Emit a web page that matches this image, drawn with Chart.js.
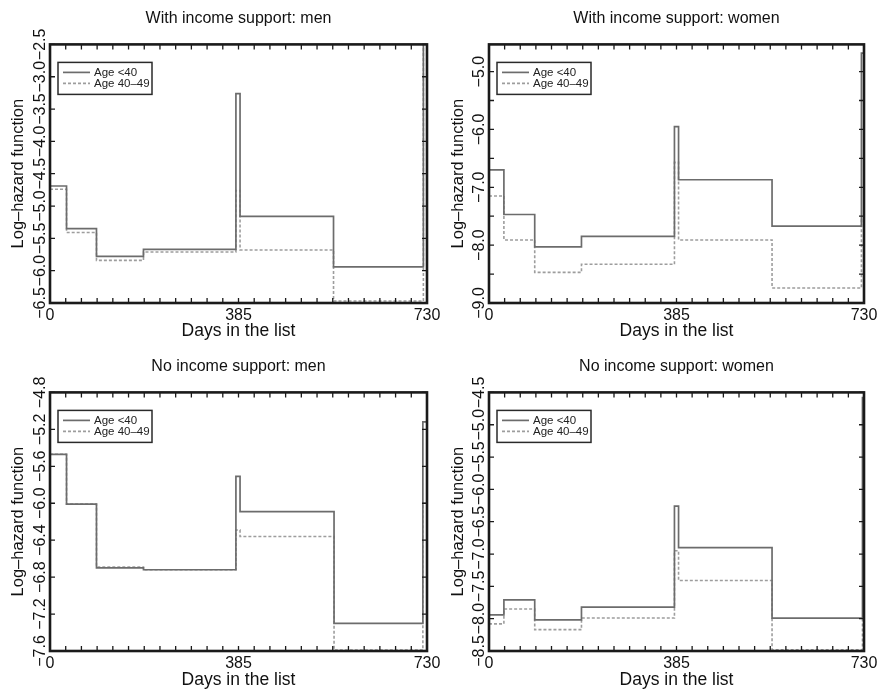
<!DOCTYPE html>
<html><head><meta charset="utf-8">
<script src="https://cdn.jsdelivr.net/npm/chart.js@4/dist/chart.umd.min.js"></script>
<style>
html,body{margin:0;padding:0;background:#fff;}
body{width:880px;height:689px;position:relative;overflow:hidden;}
.p{position:absolute;}
</style></head>
<body>
<div class="p" style="left:0;top:0"><canvas id="c1" width="440" height="340"></canvas></div>
<div class="p" style="left:440px;top:0"><canvas id="c2" width="440" height="340"></canvas></div>
<div class="p" style="left:0;top:340px"><canvas id="c3" width="440" height="349"></canvas></div>
<div class="p" style="left:440px;top:340px"><canvas id="c4" width="440" height="349"></canvas></div>
<script>
// ---------- data ----------
const seriesLabels = ['Age <40', 'Age 40\u201349'];
const panelTitles = ['With income support: men', 'With income support: women', 'No income support: men', 'No income support: women'];
const xAxisTitle = 'Days in the list';
const yAxisTitle = 'Log\u2013hazard function';
const xTickValues = [0, 365, 730];
const xTickLabels = ['0', '385', '730'];
const xMax = 730;
const xMinorCount = 24;

// With income support: men
const daysISMen  = [0, 32, 90, 181, 360, 368, 549, 723, 730];
const youngISMen = [-4.69, -5.35, -5.78, -5.67, -3.26, -5.16, -5.94, -2.40, -2.40];
const oldISMen   = [-4.74, -5.41, -5.84, -5.71, -4.76, -5.68, -6.47, -2.40, -2.40];
const yTicksISMen  = [-6.5, -6.0, -5.5, -5.0, -4.5, -4.0, -3.5, -3.0, -2.5];
const yLabelsISMen = ['\u22126.5', '\u22126.0', '\u22125.5', '\u22125.0', '\u22124.5', '\u22124.0', '\u22123.5', '\u22123.0', '\u22122.5'];
const yMarksISMen  = [-6.5, -6.0, -5.5, -5.0, -4.5, -4.0, -3.5, -3.0, -2.5];

// With income support: women
const daysISWomen  = [0, 29, 89, 180, 361, 369, 551, 725, 730];
const youngISWomen = [-6.70, -7.47, -8.03, -7.85, -5.95, -6.87, -7.67, -4.68, -4.68];
const oldISWomen   = [-7.15, -7.91, -8.47, -8.33, -6.57, -7.91, -8.74, -7.55, -7.55];
const yTicksISWomen  = [-9.0, -8.0, -7.0, -6.0, -5.0];
const yLabelsISWomen = ['\u22129.0', '\u22128.0', '\u22127.0', '\u22126.0', '\u22125.0'];
const yMarksISWomen  = [-9.0, -8.5, -8.0, -7.5, -7.0, -6.5, -6.0, -5.5, -5.0];

// No income support: men
const daysNISMen  = [0, 32, 90, 181, 360, 368, 550, 722, 730];
const youngNISMen = [-5.47, -6.01, -6.70, -6.72, -5.71, -6.09, -7.30, -5.12, -5.12];
const oldNISMen   = [-5.47, -6.01, -6.69, -6.72, -6.29, -6.36, -7.59, -6.00, -6.00];
const yTicksNISMen  = [-7.6, -7.2, -6.8, -6.4, -6.0, -5.6, -5.2, -4.8];
const yLabelsNISMen = ['\u22127.6', '\u22127.2', '\u22126.8', '\u22126.4', '\u22126.0', '\u22125.6', '\u22125.2', '\u22124.8'];
const yMarksNISMen  = [-7.6, -7.2, -6.8, -6.4, -6.0, -5.6, -5.2, -4.8];

// No income support: women
const daysNISWomen  = [0, 29, 89, 180, 361, 369, 551, 727, 730];
const youngNISWomen = [-7.94, -7.71, -8.02, -7.82, -6.26, -6.90, -7.99, -4.58, -4.58];
const oldNISWomen   = [-8.08, -7.85, -8.17, -7.99, -6.95, -7.41, -8.48, -7.99, -7.99];
const yTicksNISWomen  = [-8.5, -8.0, -7.5, -7.0, -6.5, -6.0, -5.5, -5.0, -4.5];
const yLabelsNISWomen = ['\u22128.5', '\u22128.0', '\u22127.5', '\u22127.0', '\u22126.5', '\u22126.0', '\u22125.5', '\u22125.0', '\u22124.5'];
const yMarksNISWomen  = [-8.5, -8.0, -7.5, -7.0, -6.5, -6.0, -5.5, -5.0, -4.5];

// ---------- rendering ----------
const FONT = '"Liberation Sans", Arial, Helvetica, sans-serif';
const INK = '#1a1a1a';

const framePlugin = {
  id: 'frameTicks',
  afterDatasetsDraw(chart) {
    const {ctx, chartArea: a, scales} = chart;
    const marks = chart.options.plugins.frameTicks.yMarks;
    ctx.save();
    ctx.strokeStyle = INK;
    ctx.lineWidth = 1.3;
    ctx.beginPath();
    scales.x.ticks.forEach(t => {
      const px = scales.x.getPixelForValue(t.value);
      ctx.moveTo(px, a.bottom); ctx.lineTo(px, a.bottom - 5);
      ctx.moveTo(px, a.top); ctx.lineTo(px, a.top + 5);
    });
    marks.forEach(v => {
      const py = scales.y.getPixelForValue(v);
      ctx.moveTo(a.left, py); ctx.lineTo(a.left + 5, py);
      ctx.moveTo(a.right, py); ctx.lineTo(a.right - 5, py);
    });
    ctx.stroke();
    ctx.lineWidth = 2.6;
    ctx.strokeRect(a.left, a.top, a.right - a.left, a.bottom - a.top);
    // legend box
    const bx = a.left + 8, by = a.top + 18, bw = 94, bh = 32;
    ctx.fillStyle = '#fff';
    ctx.fillRect(bx, by, bw, bh);
    ctx.lineWidth = 1.5;
    ctx.strokeStyle = '#2a2a2a';
    ctx.strokeRect(bx, by, bw, bh);
    ctx.font = '11.5px ' + FONT;
    ctx.textBaseline = 'middle';
    ctx.textAlign = 'left';
    chart.data.datasets.forEach((ds, i) => {
      const y = by + 10 + i * 11;
      ctx.beginPath();
      ctx.strokeStyle = ds.borderColor;
      ctx.lineWidth = ds.borderWidth;
      ctx.setLineDash(ds.borderDash || []);
      ctx.moveTo(bx + 5, y); ctx.lineTo(bx + 32, y);
      ctx.stroke();
      ctx.setLineDash([]);
      ctx.fillStyle = '#222';
      ctx.fillText(ds.label, bx + 36, y + 0.5);
    });
    ctx.restore();
  }
};

function makePanel(id, title, days, young, old, yMin, yMax, yTicks, yLabels, yMarks, geo) {
  const xs = [];
  for (let k = 0; k <= xMinorCount; k++) xs.push((k * xMax) / xMinorCount);
  return new Chart(document.getElementById(id), {
    type: 'line',
    data: {
      datasets: [
        { label: seriesLabels[0], data: days.map((d, i) => ({x: d, y: young[i]})),
          stepped: 'before', borderColor: '#6c6c6c', borderWidth: 1.7, pointRadius: 0, fill: false },
        { label: seriesLabels[1], data: days.map((d, i) => ({x: d, y: old[i]})),
          stepped: 'before', borderColor: '#9d9d9d', borderWidth: 1.6, borderDash: [3, 2], pointRadius: 0, fill: false }
      ]
    },
    options: {
      responsive: false, animation: false, devicePixelRatio: 1,
      layout: { padding: { left: 0, right: geo.right, top: 0, bottom: 0 } },
      plugins: {
        legend: { display: false }, tooltip: { enabled: false },
        title: { display: true, fullSize: false, text: title, color: '#111',
          font: { family: FONT, size: 16, weight: 'normal', lineHeight: 1.2 },
          padding: { top: geo.titleTop, bottom: geo.titleBottom } },
        frameTicks: { yMarks: yMarks }
      },
      scales: {
        x: {
          type: 'linear', min: 0, max: xMax,
          afterBuildTicks: s => { s.ticks = xs.map(v => ({value: v})); },
          afterFit: s => { s.height = geo.xHeight; s.paddingLeft = 0; s.paddingRight = 0; },
          grid: { display: false }, border: { display: false },
          ticks: { autoSkip: false, maxRotation: 0, minRotation: 0, padding: -5, color: '#111',
            font: { family: FONT, size: 16 },
            callback: v => { const i = xTickValues.findIndex(t => Math.abs(t - v) < 1e-6); return i >= 0 ? xTickLabels[i] : ''; } },
          title: { display: true, text: xAxisTitle, color: '#111',
            font: { family: FONT, size: 17.5, lineHeight: 1 }, padding: { top: 0, bottom: 0 } }
        },
        y: {
          type: 'linear', min: yMin, max: yMax,
          afterBuildTicks: s => { s.ticks = yTicks.map(v => ({value: v})); },
          afterFit: s => { s.width = geo.left; s.paddingTop = 0; s.paddingBottom = 0; },
          grid: { display: false }, border: { display: false },
          ticks: { autoSkip: false, minRotation: 90, maxRotation: 90, crossAlign: 'center', padding: -14, color: '#111',
            font: { family: FONT, size: 16 },
            callback: v => { const i = yTicks.findIndex(t => Math.abs(t - v) < 1e-6); return i >= 0 ? yLabels[i] : ''; } },
          title: { display: true, text: yAxisTitle, color: '#111',
            font: { family: FONT, size: 16.5, lineHeight: 1 }, padding: { top: 10, bottom: 0 } }
        }
      }
    },
    plugins: [framePlugin]
  });
}

makePanel('c1', panelTitles[0], daysISMen, youngISMen, oldISMen, -6.5, -2.5, yTicksISMen, yLabelsISMen, yMarksISMen,
  { left: 50, right: 13, titleTop: 8.6, titleBottom: 16.6, xHeight: 37 });
makePanel('c2', panelTitles[1], daysISWomen, youngISWomen, oldISWomen, -9.0, -4.53, yTicksISWomen, yLabelsISWomen, yMarksISWomen,
  { left: 49, right: 16, titleTop: 8.6, titleBottom: 16.6, xHeight: 37 });
makePanel('c3', panelTitles[2], daysNISMen, youngNISMen, oldNISMen, -7.6, -4.8, yTicksNISMen, yLabelsNISMen, yMarksNISMen,
  { left: 50, right: 13, titleTop: 16.6, titleBottom: 16.6, xHeight: 38 });
makePanel('c4', panelTitles[3], daysNISWomen, youngNISWomen, oldNISWomen, -8.5, -4.5, yTicksNISWomen, yLabelsNISWomen, yMarksNISWomen,
  { left: 49, right: 16, titleTop: 16.6, titleBottom: 16.6, xHeight: 38 });
</script>
</body></html>
